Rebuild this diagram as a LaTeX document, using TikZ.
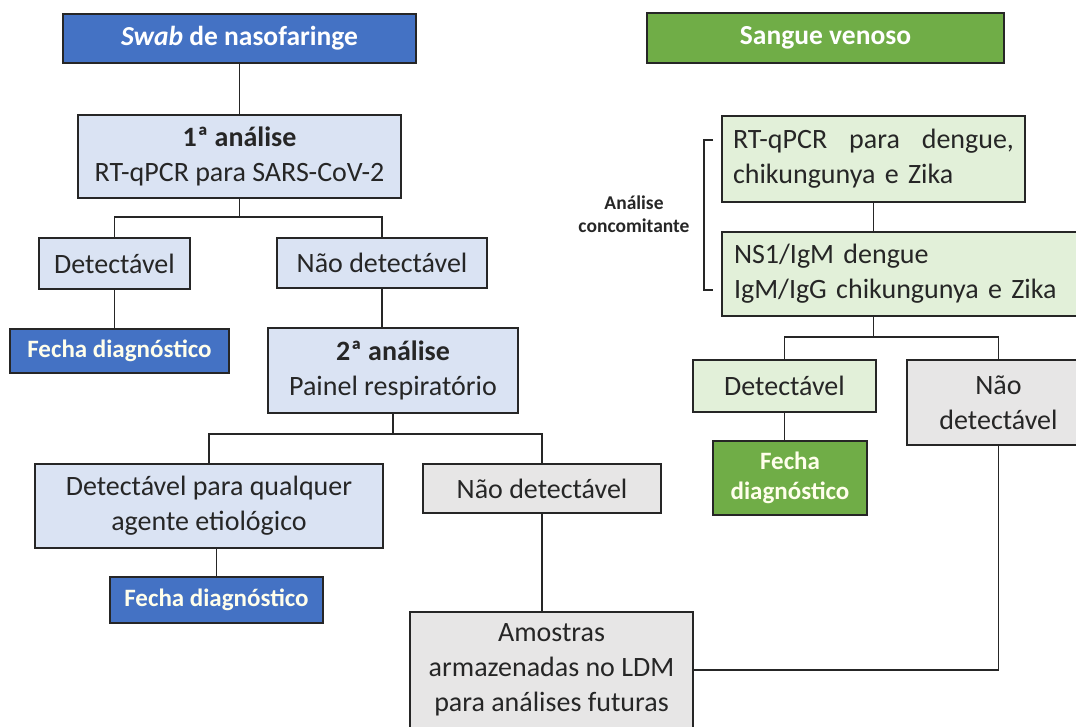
\documentclass[tikz,border=0pt]{standalone}
\usepackage{xcolor}
\usepackage{fontspec}
\setmainfont{Carlito}
\definecolor{dBlue}{HTML}{4472C4}
\definecolor{lBlue}{HTML}{DAE3F3}
\definecolor{dGreen}{HTML}{70AD47}
\definecolor{lGreen}{HTML}{E2F0D9}
\definecolor{lGray}{HTML}{E7E6E6}
\definecolor{edgeC}{HTML}{262626}
\usepackage{tikz}
\usetikzlibrary{
  calc,
  positioning
}
\tikzset{
  headbox/.style={
    draw=edgeC,
    fill=#1,
    line width=1.3pt,
    align=center,
    text=white,
    font=\fontsize{27.5}{34}\selectfont\bfseries,
    inner sep=0pt
  },
  flowbox/.style={
    draw=edgeC,
    fill=#1,
    line width=1.3pt,
    align=center,
    text=black!85,
    font=\fontsize{28}{35}\selectfont,
    inner sep=0pt
  },
  closebox/.style={
    draw=edgeC,
    fill=#1,
    line width=1.3pt,
    align=center,
    text=white!92!yellow,
    font=\fontsize{25}{30}\selectfont\bfseries,
    inner sep=0pt
  },
  flowlink/.style={
    draw=edgeC,
    line width=1.3pt
  },
  sidelabel/.style={font=\fontsize{19.5}{23}\selectfont\bfseries, text=black!85, align=center}
}
\begin{document}
\begin{tikzpicture}[x=1pt, y=-1pt]
  \useasboundingbox (0,0) rectangle (1076,726);
  \fill[white] (0,0) rectangle (1076,726);
  \clip (0,0) rectangle (1076,726);

  % Swab de nasofaringe
  \node[headbox=dBlue, minimum width=353pt, minimum height=49pt]
    (swab) at (239.5,38.5) {\textit{Swab} de nasofaringe};
  \node[flowbox=lBlue, minimum width=323pt, minimum height=83pt]
    (an1) at (239.5,156.5) {\textbf{1ª análise}\\RT-qPCR para SARS-CoV-2};
  \node[flowbox=lBlue, minimum width=151pt, minimum height=51pt]
    (det1) at (114.5,263.5) {Detectável};
  \node[flowbox=lBlue, minimum width=210pt, minimum height=50pt]
    (nd1) at (382,263) {Não detectável};
  \node[closebox=dBlue, minimum width=219pt, minimum height=44pt]
    (fecha1) at (119.5,351) {Fecha diagnóstico};
  \node[flowbox=lBlue, minimum width=250pt, minimum height=85pt]
    (an2) at (393,370.5) {\textbf{2ª análise}\\Painel respiratório};
  \node[flowbox=lBlue, minimum width=348pt, minimum height=84pt]
    (det2) at (209,506) {Detectável para qualquer\\agente etiológico};
  \node[flowbox=lGray, minimum width=238pt, minimum height=49pt]
    (nd2) at (542,488.5) {Não detectável};
  \node[closebox=dBlue, minimum width=213pt, minimum height=46pt]
    (fecha2) at (216.5,600) {Fecha diagnóstico};
  \node[flowbox=lGray, minimum width=283pt, minimum height=116pt]
    (amostras) at (551.5,670) {Amostras\\armazenadas no LDM\\para análises futuras};

  \coordinate (b1) at (239.5,217);
  \coordinate (b2) at (393,434);
  \draw[flowlink] (swab) -- (an1);
  \draw[flowlink] (an1.south) -- (b1) -| (det1.north);
  \draw[flowlink] (b1) -| (nd1.north);
  \draw[flowlink] (det1.south) -- (det1.south |- fecha1.north);
  \draw[flowlink] (nd1.south) -- (nd1.south |- an2.north);
  \draw[flowlink] (an2.south) -- (b2) -| (det2.north);
  \draw[flowlink] (b2) -| (nd2.north);
  \draw[flowlink] (fecha2.north |- det2.south) -- (fecha2.north);
  \draw[flowlink] (nd2.south) -- (nd2.south |- amostras.north);

  % Sangue venoso
  \node[headbox=dGreen, minimum width=357pt, minimum height=50pt]
    (sangue) at (825.5,38) {Sangue venoso};
  \node[flowbox=lGreen, minimum width=303pt, minimum height=86pt, text width=281pt, align=left]
    (rt) at (873.5,159) {\hbox to 281pt{RT-qPCR\hfil para\hfil dengue,}\\chikungunya e Zika};
  \node[flowbox=lGreen, minimum width=368pt, minimum height=84pt, text width=344pt, align=left]
    (ns1) at (906,274) {NS1/IgM dengue\\IgM/IgG chikungunya e Zika};
  \node[flowbox=lGreen, minimum width=183pt, minimum height=52pt]
    (det3) at (784.5,386) {Detectável};
  \node[flowbox=lGray, minimum width=183pt, minimum height=85pt]
    (nd3) at (998.5,402.5) {Não\\detectável};
  \node[closebox=dGreen, minimum width=154pt, minimum height=74pt]
    (fecha3) at (790,478) {Fecha\\diagnóstico};

  \coordinate (b3) at (873.5,337);
  \draw[flowlink] (rt.south) -- (rt.south |- ns1.north);
  \draw[flowlink] (rt.south |- ns1.south) -- (b3) -| (det3.north);
  \draw[flowlink] (b3) -| (nd3.north);
  \draw[flowlink] (det3.south) -- (det3.south |- fecha3.north);
  \draw[flowlink] (nd3.south) |- (amostras.east);

  % colchete da analise concomitante
  \coordinate (bt) at (713,140);
  \coordinate (bb) at (713,290);
  \draw[flowlink, line width=1.1pt] (bt) -- ++(-9,0) |- (bb);
  \node[sidelabel] (conc) at (634,214) {Análise\\concomitante};
\end{tikzpicture}
\end{document}
